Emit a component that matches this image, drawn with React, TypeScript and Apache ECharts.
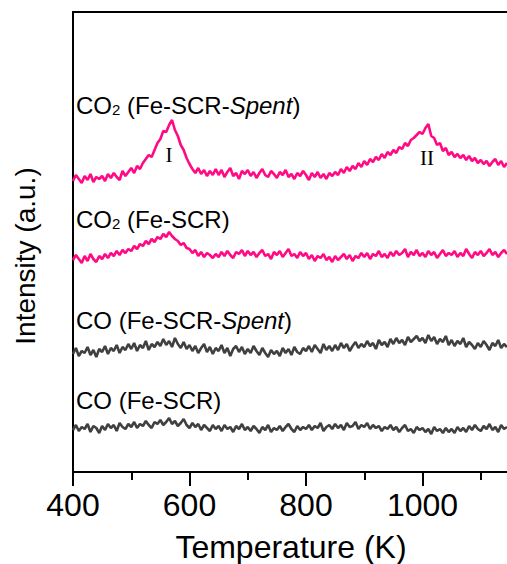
import React, { useEffect, useRef } from "react";
import * as echarts from "echarts";

// Temperature sampling of the traces (K)
const temperatures: number[] = Array.from({ length: 150 }, (_, i) => 400 + 5 * i);

// CO2 signal, spent catalyst (offset trace, a.u.)
const co2Spent: number[] = [
  291, 297, 293, 289, 296, 292, 298, 290, 295, 293,
  296, 291, 298, 294, 299, 295, 292, 301, 296, 300,
  304, 299, 306, 303, 309, 313, 317, 315, 322, 329,
  333, 341, 340, 347, 352, 342, 336, 327, 322, 314,
  308, 303, 299, 304, 298, 302, 296, 301, 297, 303,
  297, 302, 295, 300, 304, 296, 299, 293, 301, 298,
  302, 296, 300, 294, 299, 303, 297, 295, 301, 298,
  294, 300, 297, 302, 295, 298, 293, 299, 296, 301,
  297, 292, 299, 295, 300, 294, 298, 293, 299, 296,
  300, 297, 303, 299, 305, 301, 306, 303, 309, 305,
  311, 307, 313, 310, 315, 312, 318, 314, 320, 317,
  322, 319, 325, 323, 329, 326, 332, 334, 337, 340,
  338, 344, 348, 336, 334, 327, 329, 321, 324, 317,
  320, 315, 318, 314, 317, 312, 316, 311, 314, 309,
  312, 308, 311, 306, 310, 313, 307, 311, 305, 309,
];

// CO2 signal, fresh catalyst
const co2Fresh: number[] = [
  212, 217, 213, 209, 216, 211, 218, 213, 210, 216,
  213, 218, 214, 219, 216, 221, 217, 222, 219, 223,
  221, 226, 223, 228, 226, 231, 228, 233, 230, 235,
  233, 238, 235, 240, 236, 233, 231, 227, 229, 224,
  223, 219, 222, 216, 220, 215, 219, 217, 214, 218,
  215, 220, 216, 221, 217, 214, 220, 218, 222, 216,
  221, 217, 220, 215, 219, 222, 216, 218, 213, 220,
  217, 221, 215, 219, 223, 216, 218, 214, 220, 216,
  219, 213, 217, 211, 216, 214, 218, 212, 215, 210,
  216, 212, 215, 218, 213, 217, 211, 216, 214, 219,
  215, 219, 213, 218, 216, 221, 215, 218, 214, 220,
  216, 221, 217, 219, 223, 215, 220, 217, 222, 216,
  219, 215, 221, 217, 220, 214, 218, 222, 216, 219,
  217, 221, 215, 219, 216, 223, 218, 214, 220, 217,
  221, 216, 219, 223, 217, 220, 215, 219, 222, 218,
];

// CO signal, spent catalyst
const coSpent: number[] = [
  118, 124, 116, 121, 119, 125, 117, 122, 115, 123,
  120, 126, 118, 124, 121, 127, 119, 125, 122, 128,
  123, 129, 121, 127, 124, 131, 122, 128, 125, 130,
  126, 133, 127, 131, 125, 134, 128, 124, 130, 123,
  127, 121, 126, 119, 124, 128, 120, 125, 118, 124,
  121, 127, 119, 124, 116, 123, 126, 120, 125, 118,
  123, 119, 126, 121, 117, 124, 119, 115, 122, 118,
  121, 116, 124, 119, 123, 117, 125, 120, 118, 124,
  121, 126, 120, 127, 123, 119, 128, 122, 126, 121,
  127, 122, 129, 124, 128, 121, 126, 130, 124, 128,
  125, 131, 126, 129, 123, 132, 127, 130, 125, 133,
  128, 134, 129, 132, 127, 135, 130, 133, 136, 131,
  134, 129, 137, 131, 135, 128, 133, 130, 136, 127,
  132, 126, 131, 128, 134, 125, 130, 127, 123, 129,
  125, 131, 127, 122, 129, 126, 132, 124, 128, 125,
];

// CO signal, fresh catalyst
const coFresh: number[] = [
  42, 47, 41, 45, 43, 48, 40, 46, 44, 39,
  46, 42, 48, 44, 47, 41, 49, 45, 43, 48,
  45, 50, 44, 48, 46, 51, 47, 44, 50, 48,
  52, 47, 50, 54, 48, 51, 46, 49, 53, 47,
  44, 49, 45, 48, 42, 47, 44, 41, 47, 43,
  46, 41, 47, 43, 45, 40, 46, 43, 48, 42,
  45, 41, 46, 43, 39, 45, 42, 47, 40, 44,
  42, 46, 41, 45, 48, 43, 40, 46, 42, 45,
  43, 47, 42, 46, 44, 49, 41, 45, 47, 43,
  48, 44, 47, 42, 49, 45, 46, 50, 43, 47,
  45, 49, 43, 47, 44, 46, 41, 45, 43, 47,
  42, 45, 40, 44, 47, 41, 43, 39, 45, 42,
  44, 40, 43, 38, 45, 41, 43, 39, 44, 40,
  43, 39, 45, 41, 44, 40, 46, 42, 47, 43,
  41, 46, 43, 48, 42, 45, 40, 47, 43, 45,
];

const PINK = "#ff0a84";
const GREY = "#404040";
const SANS = "'Liberation Sans', Arial, sans-serif";
const SERIF = "'Liberation Serif', 'Times New Roman', serif";

const pairs = (vals: number[]) => vals.map((v, i) => [temperatures[i], v]);

const labelRich = {
  a: { fontSize: 24, fontFamily: SANS, fill: "#000" },
  s: { fontSize: 15, fontFamily: SANS, fill: "#000", verticalAlign: "bottom" },
  i: { fontSize: 24, fontFamily: SANS, fill: "#000", fontStyle: "italic" },
};

function traceLabel(text: string, y: number) {
  return {
    type: "text",
    x: 76,
    y,
    style: {
      text,
      rich: labelRich,
      align: "left",
      verticalAlign: "middle",
      fill: "#000",
      font: `24px ${SANS}`,
    },
  };
}

export default function App() {
  const ref = useRef<HTMLDivElement>(null);

  useEffect(() => {
    if (!ref.current) return;
    const chart = echarts.init(ref.current, null, { renderer: "svg" });
    const lineSeries = (name: string, vals: number[], color: string) => ({
      name,
      type: "line",
      xAxisIndex: 0,
      yAxisIndex: 0,
      data: pairs(vals),
      showSymbol: false,
      symbol: "none",
      lineStyle: { color, width: 2.6 },
      itemStyle: { color },
      silent: true,
    });
    chart.setOption({
      animation: false,
      backgroundColor: "#fff",
      grid: { left: 73, top: 12, width: 466, height: 460, containLabel: false },
      xAxis: [
        {
          type: "value",
          position: "bottom",
          min: 400,
          max: 1200,
          interval: 200,
          axisLine: { show: true, onZero: false, lineStyle: { color: "#000", width: 2 } },
          axisTick: { show: true, inside: false, length: 14, lineStyle: { color: "#000", width: 2 } },
          minorTick: { show: true, splitNumber: 2, length: 8, lineStyle: { color: "#000", width: 2 } },
          axisLabel: {
            show: true,
            margin: 17,
            fontSize: 32,
            color: "#000",
            fontFamily: SANS,
            showMaxLabel: false,
            formatter: (v: number) => String(v),
          },
          splitLine: { show: false },
        },
        {
          type: "value",
          position: "top",
          min: 400,
          max: 1200,
          axisLine: { show: true, onZero: false, lineStyle: { color: "#000", width: 2 } },
          axisTick: { show: false },
          axisLabel: { show: false },
          splitLine: { show: false },
        },
      ],
      yAxis: {
        type: "value",
        min: 0,
        max: 460,
        axisLine: { show: true, onZero: false, lineStyle: { color: "#000", width: 2 } },
        axisTick: { show: false },
        axisLabel: { show: false },
        splitLine: { show: false },
      },
      series: [
        lineSeries("CO2 (Fe-SCR-Spent)", co2Spent, PINK),
        lineSeries("CO2 (Fe-SCR)", co2Fresh, PINK),
        lineSeries("CO (Fe-SCR-Spent)", coSpent, GREY),
        lineSeries("CO (Fe-SCR)", coFresh, GREY),
      ],
      graphic: [
        traceLabel("{a|CO}{s|2}{a| (Fe-SCR-}{i|Spent}{a|)}", 105),
        traceLabel("{a|CO}{s|2}{a| (Fe-SCR)}", 219),
        traceLabel("{a|CO (Fe-SCR-}{i|Spent}{a|)}", 320),
        traceLabel("{a|CO (Fe-SCR)}", 400),
        {
          type: "text",
          x: 169,
          y: 155,
          style: { text: "I", font: `21px ${SERIF}`, fill: "#000", align: "center", verticalAlign: "middle" },
        },
        {
          type: "text",
          x: 427,
          y: 158,
          style: { text: "II", font: `21px ${SERIF}`, fill: "#000", align: "center", verticalAlign: "middle" },
        },
        {
          type: "text",
          x: 291,
          y: 547,
          style: { text: "Temperature (K)", font: `32px ${SANS}`, fill: "#000", align: "center", verticalAlign: "middle" },
        },
        {
          type: "text",
          x: 25,
          y: 256,
          rotation: Math.PI / 2,
          style: { text: "Intensity (a.u.)", font: `28px ${SANS}`, fill: "#000", align: "center", verticalAlign: "middle" },
        },
      ],
    });
    return () => chart.dispose();
  }, []);

  return (
    <div
      style={{
        position: "absolute",
        left: 0,
        top: 0,
        width: 507,
        height: 564,
        overflow: "hidden",
        background: "#fff",
      }}
    >
      <div ref={ref} style={{ width: 600, height: 564 }} />
    </div>
  );
}
